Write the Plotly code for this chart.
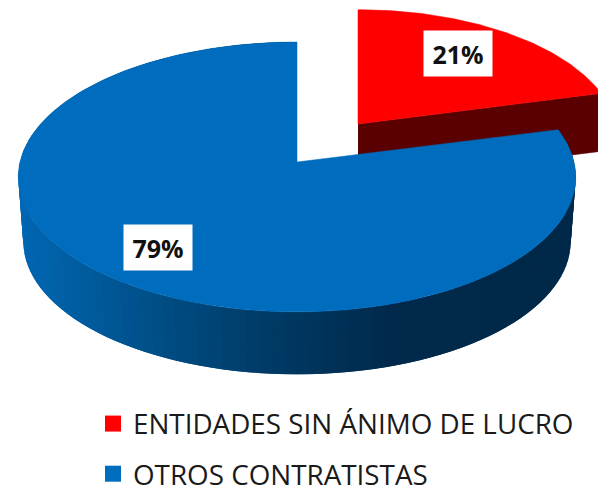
import numpy as np
import plotly.graph_objects as go

categories = ["ENTIDADES SIN ÁNIMO DE LUCRO", "OTROS CONTRATISTAS"]
shares = [21, 79]
labels = ["21%", "79%"]

RED, RED_DARK, BLUE = "#ff0000", "#5a0000", "#006cbd"
WALL_STOPS = [(17, (0, 104, 180)), (100, (0, 90, 155)), (200, (0, 72, 124)),
              (300, (0, 56, 98)), (400, (0, 42, 76)), (575, (0, 40, 72))]
K = 0.111


def project(theta, cx, cy, a, b):
    u, v = np.sin(theta), np.cos(theta)
    d = 1 + K * v
    return cx + a * u / d, cy - b * v / d


def wedge(t0, t1, n, cx, cy, a, b):
    t = np.linspace(t0, t1, n)
    x, y = project(t, cx, cy, a, b)
    return np.r_[cx, x, cx], np.r_[cy, y, cy]


def wall_color(x):
    xs = [s[0] for s in WALL_STOPS]
    return "rgb(%d,%d,%d)" % tuple(np.interp(x, xs, [s[1][i] for s in WALL_STOPS]) for i in range(3))


fig = go.Figure()


def poly(x, y, color, lw=0.5):
    fig.add_trace(go.Scatter(x=x, y=y, mode="lines", fill="toself", fillcolor=color,
                             line=dict(width=lw, color=color), hoverinfo="skip", showlegend=False))


red_end = 2 * np.pi * shares[0] / 100
blue_t0, blue_t1 = red_end, 2 * np.pi

# red slice (drawn behind)
RT = (358, 124, 258, 127)
RB = (358, 182, 258, 127)
xt, yt = project(red_end, *RT)
xb, yb = project(red_end, *RB)
poly([RT[0], xt, xb, RB[0]], [RT[1], yt, yb, RB[1]], RED_DARK)
x, y = wedge(0, red_end, 80, *RT)
poly(x, y, RED)

# blue wall: strips along the rim, shaded from left to right
TOP = (297, 162, 277, 133.3)
BOT = (297, 227, 272, 131)
edges = np.linspace(blue_t0, blue_t1, 121)
step = edges[1] - edges[0]
for t0 in edges[:-1][::-1]:
    ts = np.linspace(t0, min(t0 + step * 2, blue_t1), 4)
    xa, ya = project(ts, *TOP)
    xc, yc = project(ts[::-1], *BOT)
    poly(np.r_[xa, xc], np.r_[ya, yc], wall_color(xa[1]), lw=0)

# blue top
x, y = wedge(blue_t0, blue_t1, 300, *TOP)
poly(x, y, BLUE)

# legend entries
for name, color in zip(categories, [RED, BLUE]):
    fig.add_trace(go.Scatter(x=[None], y=[None], mode="markers", name=name, legendgroup=name,
                             marker=dict(symbol="square", size=16, color=color)))

for text, px, py in zip(labels, [458, 157.5], [53.5, 247.5]):
    fig.add_annotation(x=px, y=py, text="<b>%s</b>" % text, showarrow=False, bgcolor="white",
                       width=66, height=43, font=dict(family="Open Sans", size=25, color="#111111"))

fig.update_layout(
    width=598, height=485, margin=dict(l=0, r=0, t=0, b=0, autoexpand=False),
    paper_bgcolor="white", plot_bgcolor="white",
    xaxis=dict(range=[0, 598], visible=False, fixedrange=True),
    yaxis=dict(range=[485, 0], visible=False, fixedrange=True),
    legend=dict(x=93 / 598, y=1 - 399 / 485, xanchor="left", yanchor="top", tracegroupgap=11,
                font=dict(family="Open Sans", size=27.8, color="#1a1a1a"),
                bgcolor="rgba(0,0,0,0)"),
)
fig.write_html("out.html", post_script="document.body.style.margin='0';document.body.style.overflow='hidden';",
               config={"displayModeBar": False})
